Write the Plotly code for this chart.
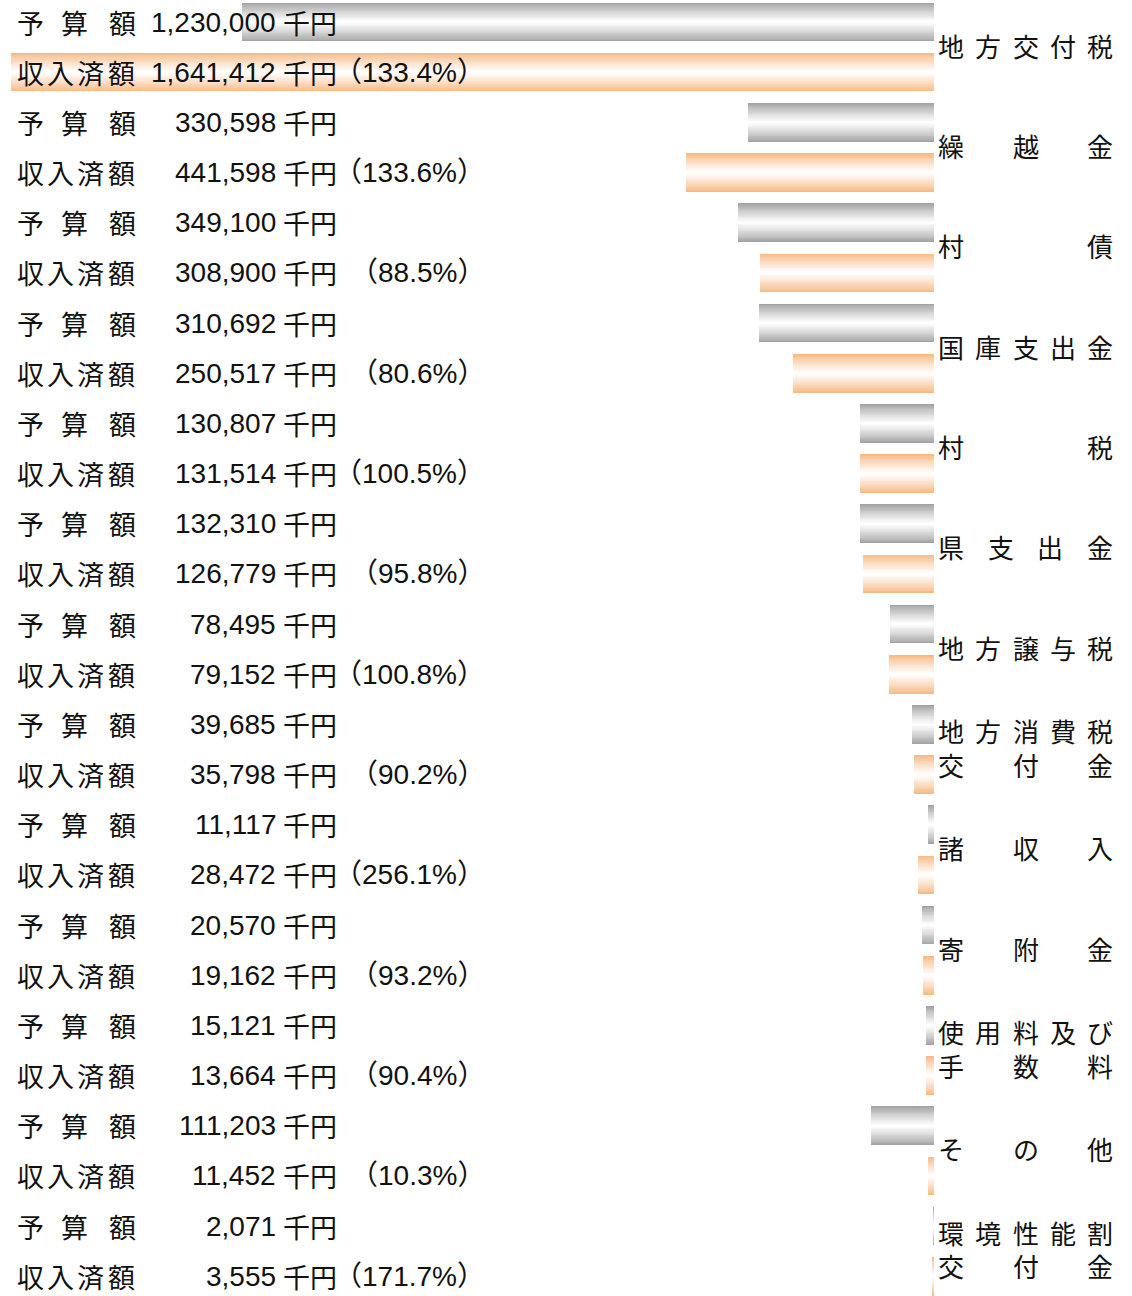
import plotly.graph_objects as go

# ---------------- data ----------------
categories = [
    ["地方交付税"], ["繰越金"], ["村債"], ["国庫支出金"], ["村税"], ["県支出金"],
    ["地方譲与税"], ["地方消費税", "交付金"], ["諸収入"], ["寄附金"],
    ["使用料及び", "手数料"], ["その他"], ["環境性能割", "交付金"],
]
budget = [1230000, 330598, 349100, 310692, 130807, 132310, 78495, 39685,
          11117, 20570, 15121, 111203, 2071]
actual = [1641412, 441598, 308900, 250517, 131514, 126779, 79152, 35798,
          28472, 19162, 13664, 11452, 3555]
ratio = ["133.4", "133.6", "88.5", "80.6", "100.5", "95.8", "100.8", "90.2",
         "256.1", "93.2", "90.4", "10.3", "171.7"]
budget_label = "予算額"
actual_label = "収入済額"
unit = "千円"

# ---------------- styling ----------------
W, H = 1132, 1296
ROW_PX = 50.17
TOP_CENTER = 22
BAR_W = 0.77
GRAY = (162, 162, 162)
ORANGE = (247, 184, 130)
NLAYER = 22
CJK = "Noto Sans CJK JP"
NUMFONT = "Liberation Sans, Noto Sans CJK JP"
TXT = "#111111"


def px(x):
    return x / W


def mix(c, t):
    r, g, b = (int(round(ci + (255 - ci) * t)) for ci in c)
    return f"rgb({r},{g},{b})"


n = len(categories)
rows_b = [2 * i for i in range(n)]
rows_a = [2 * i + 1 for i in range(n)]

fig = go.Figure()
for vals, rows, col in [(budget, rows_b, GRAY), (actual, rows_a, ORANGE)]:
    for k in range(NLAYER):
        frac = 1 - k / NLAYER
        t = (k / (NLAYER - 1)) ** 0.85
        fig.add_trace(go.Bar(
            x=vals, y=rows, orientation="h",
            width=[BAR_W * frac] * len(vals),
            marker=dict(color=mix(col, t), line=dict(width=0)),
            hoverinfo="skip", showlegend=False,
        ))

ann = []
# left labels
pos_budget = [30, 74.5, 122]
pos_actual = [30, 60, 90.5, 121]
for i in range(n):
    for rows, lab, pos, val in [(rows_b[i], budget_label, pos_budget, budget[i]),
                                (rows_a[i], actual_label, pos_actual, actual[i])]:
        for ch, xc in zip(lab, pos):
            ann.append(dict(x=px(xc), y=rows, xref="paper", yref="y", text=ch,
                            showarrow=False, xanchor="center", yanchor="middle",
                            font=dict(family=CJK, size=27, color=TXT)))
        ann.append(dict(x=px(278), y=rows, xref="paper", yref="y", text=f"{val:,}",
                        showarrow=False, xanchor="right", yanchor="middle",
                        font=dict(family=NUMFONT, size=28, color=TXT)))
        ann.append(dict(x=px(281), y=rows, xref="paper", yref="y", text=unit,
                        showarrow=False, xanchor="left", yanchor="middle",
                        font=dict(family=CJK, size=27, color=TXT)))
    ann.append(dict(x=px(487), y=rows_a[i], xref="paper", yref="y",
                    text=f"（{ratio[i]}%）",
                    showarrow=False, xanchor="right", yanchor="middle",
                    font=dict(family=NUMFONT, size=28, color=TXT)))

# category names (justified between x=938 and x=1113)
LEFT, RIGHT, CW = 938, 1113, 26
for i, lines in enumerate(categories):
    center = 2 * i + 0.5 - 0.04
    nl = len(lines)
    for li, line in enumerate(lines):
        yoff = (li - (nl - 1) / 2) * 0.66
        m = len(line)
        step = (RIGHT - LEFT - CW) / (m - 1) if m > 1 else 0
        for j, ch in enumerate(line):
            xc = LEFT + CW / 2 + j * step
            ann.append(dict(x=px(xc), y=center + yoff, xref="paper", yref="y",
                            text=ch, showarrow=False, xanchor="center",
                            yanchor="middle",
                            font=dict(family=CJK, size=26, color=TXT)))

ymin = -TOP_CENTER / ROW_PX
ymax = ymin + H / ROW_PX

fig.update_layout(
    width=W, height=H,
    margin=dict(l=0, r=0, t=0, b=0),
    paper_bgcolor="white", plot_bgcolor="white",
    barmode="overlay", bargap=0,
    showlegend=False,
    xaxis=dict(domain=[px(11), px(934)], range=[max(actual), 0],
               visible=False, showgrid=False, zeroline=False),
    yaxis=dict(range=[ymax, ymin], visible=False, showgrid=False,
               zeroline=False),
    annotations=ann,
)

fig.write_html(
    "out.html",
    config={"displayModeBar": False, "staticPlot": True},
    post_script="document.body.style.margin='0';document.body.style.overflow='hidden';",
)
